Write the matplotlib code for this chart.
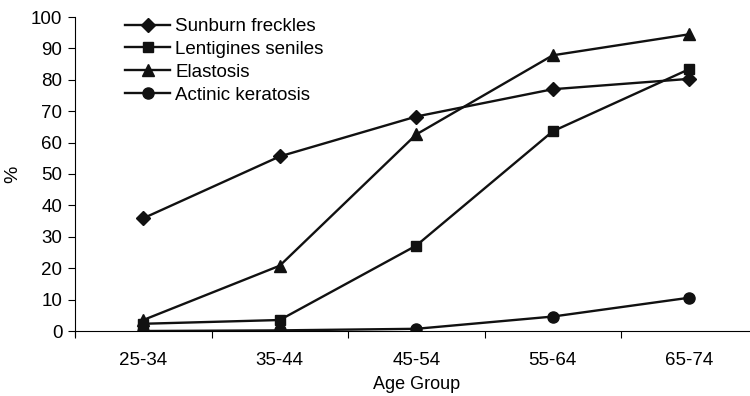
import numpy as np
import matplotlib.pyplot as plt

plt.rcParams['font.family'] = ['Liberation Sans', 'DejaVu Sans']

age_groups = ['25-34', '35-44', '45-54', '55-64', '65-74']
sunburn = [35.9, 55.6, 68.3, 77.0, 80.3]
lentigines = [2.3, 3.5, 27.2, 63.6, 83.4]
elastosis = [3.5, 20.8, 62.6, 87.8, 94.5]
actinic = [0.0, 0.2, 0.7, 4.6, 10.6]

fig = plt.figure(figsize=(7.5, 3.96), dpi=100)
ax = fig.add_axes([75 / 750, 1 - 331 / 396, 682.5 / 750, 314 / 396])

x = np.arange(len(age_groups))
ax.plot(x, sunburn, '-D', color='#111111', lw=1.7, ms=7, label='Sunburn freckles')
ax.plot(x, lentigines, '-s', color='#111111', lw=1.7, ms=7.5, label='Lentigines seniles')
ax.plot(x, elastosis, '-^', color='#111111', lw=1.7, ms=8.5, label='Elastosis')
ax.plot(x, actinic, '-o', color='#111111', lw=1.7, ms=8, label='Actinic keratosis')

ax.set_xlim(-0.5, len(age_groups) - 0.5)
ax.set_ylim(0, 100)
ax.set_yticks(range(0, 101, 10))
ax.set_xticks(x)
ax.set_xticklabels(age_groups)
ax.set_xticks(np.arange(-0.5, len(age_groups), 1), minor=True)
ax.tick_params(axis='x', which='major', length=0, pad=15, labelsize=13.5)
ax.tick_params(axis='x', which='minor', length=5, width=0.8, direction='out')
ax.tick_params(axis='y', length=5, width=0.8, labelsize=13.5, pad=4)

for s in ['top', 'right']:
    ax.spines[s].set_visible(False)
ax.spines['left'].set_linewidth(0.8)
ax.spines['bottom'].set_linewidth(0.8)
ax.spines['left'].set_bounds(-1.5, 100)
ax.spines['left'].set_clip_on(False)

ax.set_xlabel('Age Group', fontsize=13, labelpad=5)
ax.set_ylabel('%', fontsize=14)
ax.yaxis.set_label_coords(-0.079, 0.5)

ax.legend(loc='upper left', bbox_to_anchor=(0.049, 1.05), frameon=False,
          fontsize=13.5, handlelength=2.4, labelspacing=0.3, handletextpad=0.25)

fig.savefig('out.png', dpi=100)
